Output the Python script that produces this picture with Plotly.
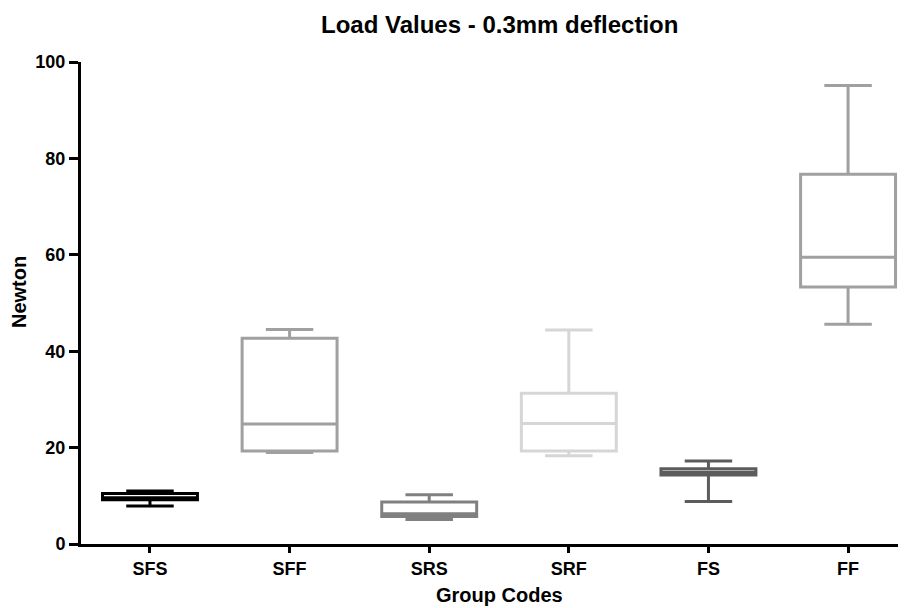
import plotly.graph_objects as go

categories = ["SFS", "SFF", "SRS", "SRF", "FS", "FF"]
q1 = [9.2, 19.3, 5.7, 19.3, 14.3, 53.3]
median = [9.6, 24.9, 6.3, 25.0, 14.9, 59.5]
q3 = [10.5, 42.7, 8.7, 31.3, 15.6, 76.7]
lower = [7.9, 19.0, 5.1, 18.3, 8.8, 45.6]
upper = [11.0, 44.5, 10.2, 44.4, 17.2, 95.1]
colors = ["#000000", "#a0a0a0", "#808080", "#d6d6d6", "#5c5c5c", "#a0a0a0"]

# the page body adds an 8px offset, so the figure is drawn 8px smaller
OFF = 8
W, H = 906 - OFF, 608 - OFF
ML, MR, MT, MB = 81 - OFF, 0, 62 - OFF, 64

fig = go.Figure()
for i, c in enumerate(categories):
    fig.add_trace(go.Box(
        x=[c], q1=[q1[i]], median=[median[i]], q3=[q3[i]],
        lowerfence=[lower[i]], upperfence=[upper[i]],
        line=dict(color=colors[i], width=3),
        fillcolor="white", width=0.68, whiskerwidth=0.5,
        boxpoints=False, showlegend=False, hoverinfo="skip",
    ))

font_family = "Liberation Sans, Arial, sans-serif"
pw = W - ML - MR
ph = H - MT - MB


def px(xp):
    return (xp - OFF - ML) / pw


def py(yp):
    return (H - MB - (yp - OFF)) / ph


fig.update_layout(
    width=W, height=H,
    margin=dict(l=ML, r=MR, t=MT, b=MB, autoexpand=False),
    paper_bgcolor="white", plot_bgcolor="white",
    boxmode="overlay",
    font=dict(family=font_family, color="black"),
    annotations=[
        dict(text="Load Values - 0.3mm deflection", xref="paper", yref="paper",
             x=px(499), y=py(24), xanchor="center", yanchor="middle",
             showarrow=False,
             font=dict(family=font_family, size=24, color="black", weight="bold")),
        dict(text="Group Codes", xref="paper", yref="paper",
             x=px(499), y=py(595), xanchor="center", yanchor="middle",
             showarrow=False,
             font=dict(family=font_family, size=20, color="black", weight="bold")),
        dict(text="Newton", xref="paper", yref="paper", textangle=-90,
             x=px(19), y=py(292), xanchor="center", yanchor="middle",
             showarrow=False,
             font=dict(family=font_family, size=20, color="black", weight="bold")),
    ],
)
fig.update_xaxes(
    type="category", categoryorder="array", categoryarray=categories,
    range=[-0.494, 5.415], automargin=False,
    showline=True, linewidth=3, linecolor="black", mirror=False,
    ticks="outside", ticklen=6, tickwidth=3, tickcolor="black",
    tickfont=dict(family=font_family, size=18, color="black", weight="bold"),
    showgrid=False, zeroline=False,
)
fig.update_yaxes(
    range=[0, 100], tickvals=[0, 20, 40, 60, 80, 100], automargin=False,
    showline=True, linewidth=3, linecolor="black",
    ticks="outside", ticklen=9, tickwidth=3, tickcolor="black",
    tickfont=dict(family=font_family, size=18, color="black", weight="bold"),
    showgrid=False, zeroline=False,
)

fig.write_html("out.html")
